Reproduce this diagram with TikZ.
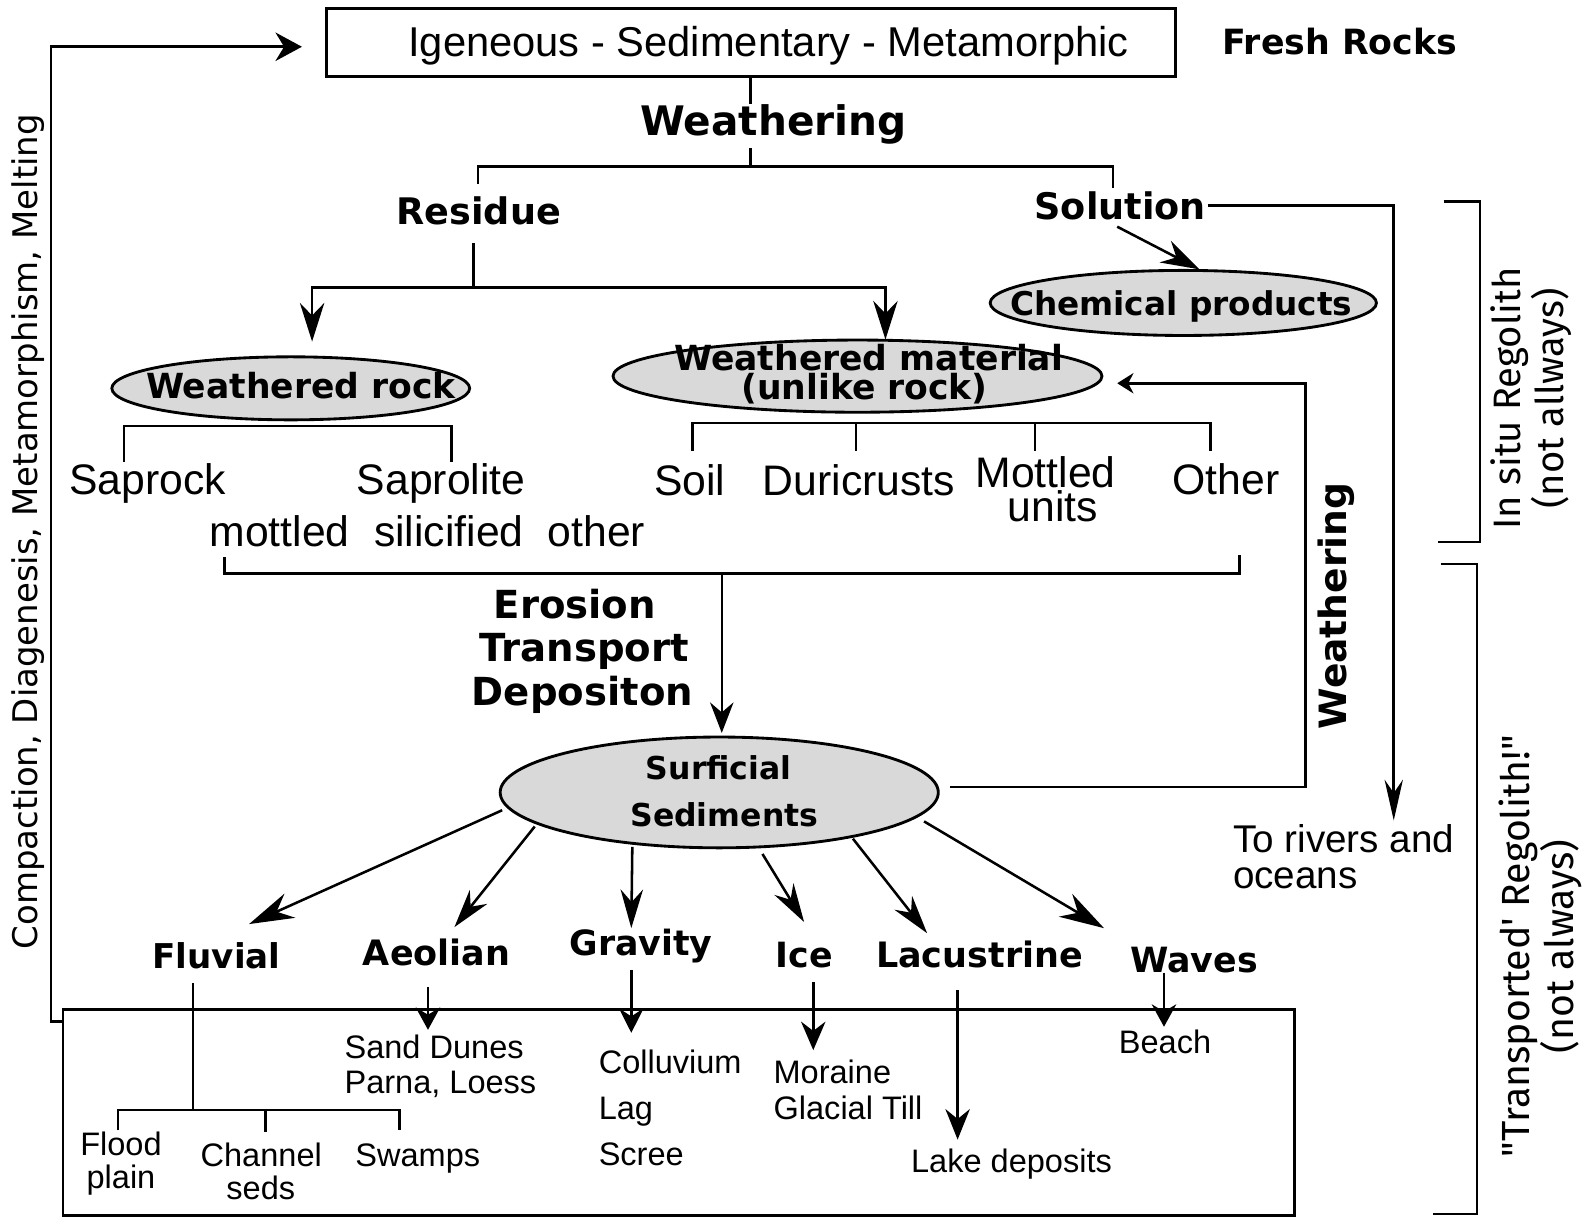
\documentclass[tikz,border=0pt]{standalone}
\usepackage{fontspec}
\setmainfont{Liberation Sans}
\newfontfamily\dvs{DejaVu Sans}
\newfontfamily\fira{Fira Sans}
\usetikzlibrary{arrows.meta,shapes.geometric}
\definecolor{ellgray}{RGB}{217,217,217}
\begin{document}
\begin{tikzpicture}[x=0.5pt,y=-0.5pt, line width=1.25pt,
  every node/.style={inner sep=0pt,outer sep=0pt},
  ell/.style={ellipse,draw,line width=1.4pt,fill=ellgray,inner sep=0pt},
  rg/.style={font=\fontsize{#1}{#1}\selectfont, anchor=base},
  vb/.style={font=\dvs\bfseries\fontsize{#1}{#1}\selectfont, anchor=base},
  arr/.style 2 args={-{Stealth[length=#1pt,width=#2pt]}},
  boxed/.style={draw,line width=1.4pt}
]
\useasboundingbox (0,0) rectangle (1568,1198);
\fill[white] (0,0) rectangle (1568,1198);

% top
\node[boxed, minimum width=417.5pt, minimum height=33.5pt] (topbox) at (738.5,41.5) {};
\node[rg=20.5] (rocks) at (756,56) {Igeneous - Sedimentary - Metamorphic};
\node[vb=17.1] (fresh) at (1318,54) {Fresh Rocks};
\node[vb=20] (weath) at (761,133) {Weathering};
\node[vb=18] (res) at (471,221) {Residue};
\node[vb=18] (sol) at (1102,216) {Solution};

% ellipses
\node[ell, minimum width=190pt, minimum height=32pt] (chem) at (1164,298) {};
\node[vb=16.1] (chemt) at (1162,310) {Chemical products};
\node[ell, minimum width=176pt, minimum height=31pt] (wr) at (286,382) {};
\node[vb=17] (wrt) at (296,392) {Weathered rock};
\node[ell, minimum width=240.5pt, minimum height=35.5pt] (wm) at (843.5,370) {};
\node[vb=17] (wm1) at (854.5,364) {Weathered material};
\node[vb=17] (wm2) at (850.5,393) {(unlike rock)};

% weathered products
\node[rg=21] (saprock) at (145,486) {Saprock};
\node[rg=21] (saprolite) at (434,486) {Saprolite};
\node[rg=21] (mot) at (420.5,538) {mottled\hspace{12pt}silicified\hspace{12pt}other};
\node[rg=21] (soil) at (678.5,487) {Soil};
\node[rg=21] (duri) at (845,487) {Duricrusts};
\node[rg=21] (mott1) at (1028.5,480) {Mottled};
\node[rg=21] (mott2) at (1035.5,513) {units};
\node[rg=21] (other) at (1206,486) {Other};

% erosion
\node[vb=19] (ero1) at (565.5,608) {Erosion};
\node[vb=19] (ero2) at (574.5,651) {Transport};
\node[vb=19] (ero3) at (573,694) {Depositon};

% surficial
\node[ell, minimum width=215.5pt, minimum height=54.5pt] (surf) at (707.5,779.5) {};
\node[vb=15.5] (surf1) at (707,767) {Surficial};
\node[vb=15.5] (surf2) at (712.5,813) {Sediments};

\node[vb=18.5, anchor=center, rotate=90] (weath2) at (1314,596) {Weathering};
\node[rg=19, anchor=base west] (riv1) at (1213,839) {To rivers and};
\node[rg=19, anchor=base west] (riv2) at (1213,874) {oceans};

\node[font=\dvs\fontsize{16.7}{16.7}\selectfont, rotate=90] (cycle) at (28,523) {Compaction, Diagenesis, Metamorphism, Melting};
\node[font=\fira\fontsize{18.8}{21}\selectfont, rotate=90, align=center] (insitu) at (1506,392) {In situ Regolith\\(not allways)};
\node[font=\fira\fontsize{19.3}{20}\selectfont, rotate=90, align=center] (transp) at (1515,931) {"Transported' Regolith!"\\(not always)};

% agents
\node[vb=16.8] (fluv) at (213,953) {Fluvial};
\node[vb=17.2] (aeol) at (429.5,950) {Aeolian};
\node[vb=17.1] (grav) at (630.5,940) {Gravity};
\node[vb=17.1] (ice) at (791,952) {Ice};
\node[vb=17.2] (lac) at (963.5,952) {Lacustrine};
\node[vb=17.1] (wav) at (1174.5,957) {Waves};

% lower box
\node[boxed, minimum width=605.5pt, minimum height=101.5pt] (lowbox) at (667.5,1094.5) {};
\node[rg=16] (flood1) at (119,1137) {Flood};
\node[rg=16] (flood2) at (119,1169) {plain};
\node[rg=16] (chan1) at (257,1147) {Channel};
\node[rg=16] (chan2) at (256.5,1180) {seds};
\node[rg=16] (swamp) at (411,1147) {Swamps};
\node[rg=16, anchor=base west] (sand1) at (339,1041) {Sand Dunes};
\node[rg=16, anchor=base west] (sand2) at (339,1076) {Parna, Loess};
\node[rg=16, anchor=base west] (coll) at (589,1056) {Colluvium};
\node[rg=16, anchor=base west] (lag) at (589,1101) {Lag};
\node[rg=16, anchor=base west] (scree) at (589,1146) {Scree};
\node[rg=16, anchor=base west] (mor) at (761,1066) {Moraine};
\node[rg=16, anchor=base west] (glac) at (761,1101) {Glacial Till};
\node[rg=16] (lake) at (995,1153) {Lake deposits};
\node[rg=16] (beach) at (1146,1036) {Beach};

% connectors top
\draw (topbox.south) -- (738.5,102);
\draw (738.5,146) -- (738.5,164);
\draw (470,181) -- (470,164) -- (1095,164) -- (1095,185);
\draw (466,239) -- (466,283);
\draw[arr={19}{12}] (466,283) -| (307,336);
\draw[arr={19}{12}] (466,283) -| (871,334);
\draw[arr={20}{9}] (1188,202) -| (1371,807);
\draw[arr={19}{12}] (1099,223) -- (1180,265);
\draw (122,454) |- (444,419) -- (444,454);
\draw (681,444) |- (1191,416) -- (1191,444);
\draw (842,416) -- (842,444);
\draw (1018,416) -- (1018,444);
\draw (221,548) |- (1219,564) -- (1219,546);
\draw[arr={15}{11.5}] (710,564) -- (710,721);
\draw[arr={8}{10}] (934,774) -| (1284,377) -- (1099,377);
\draw[arr={13}{14}] (62,1005) -- (50,1005) -- (50,46) -- (297,46);

% surficial arrows
\draw[arr={22}{13}] (494,797) -- (245,909);
\draw[arr={19}{11}] (526,813) -- (447,912);
\draw[arr={19}{11}] (622,833) -- (621,913);
\draw[arr={19}{11}] (750,840) -- (791,907);
\draw[arr={19}{11}] (839,825) -- (912,918);
\draw[arr={22}{13}] (909,808) -- (1086,913);

% lower arrows
\draw[arr={11}{12}] (421,971) -- (421,1013);
\draw[arr={12}{12}] (621,954) -- (621,1016);
\draw[arr={14}{12}] (800,966) -- (800,1033);
\draw[arr={15}{12}] (942,974) -- (942,1121);
\draw[arr={11}{12}] (1145,957) -- (1145,1010);
\draw (190,967) -- (190,1092);
\draw (116,1112) |- (393,1092) -- (393,1112);
\draw (261,1092) -- (261,1114);

% brackets
\draw (1420,198) -| (1456,533) -- (1415,533);
\draw (1417,555) -| (1453,1194) -- (1410,1194);
\end{tikzpicture}
\end{document}
